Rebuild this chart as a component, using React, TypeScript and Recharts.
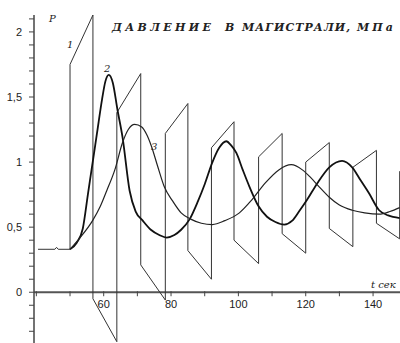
import React from "react";
import { LineChart, Line, XAxis, YAxis, ReferenceLine, ReferenceDot } from "recharts";

// Curve 1: sawtooth pressure (t, P)
const curve1T = [40.5, 45.5, 46, 46.5, 50, 50, 56.8, 56.8, 63.9, 63.9, 71, 71, 78.3, 78.3, 85, 85, 92, 92, 98.7, 98.7, 106, 106, 113, 113, 120, 120, 127, 127, 134, 134, 141, 141, 147.9, 147.9];
const curve1P = [0.33, 0.33, 0.345, 0.33, 0.33, 1.75, 2.13, -0.05, -0.38, 1.38, 1.68, 0.21, -0.06, 1.22, 1.45, 0.32, 0.1, 1.11, 1.31, 0.4, 0.22, 1.04, 1.22, 0.45, 0.3, 1.0, 1.15, 0.49, 0.35, 0.96, 1.09, 0.53, 0.41, 0.93];

// Curve 2
const curve2T = [50, 52, 53.8, 55.3, 56.5, 58, 59.5, 60.5, 61.5, 62.7, 64.1, 65.6, 67.7, 69.5, 71.6, 74, 76.5, 78.7, 81, 83, 85.5, 88, 90, 92.3, 94.3, 96.4, 97.8, 99.4, 101.3, 103.3, 106, 108.5, 111, 113.6, 116, 118, 120.4, 123.5, 127, 130.8, 133.8, 136.3, 138.8, 141.8, 144.5, 147.9];
const curve2P = [0.33, 0.38, 0.49, 0.75, 0.96, 1.22, 1.48, 1.62, 1.67, 1.61, 1.4, 1.19, 0.78, 0.62, 0.55, 0.48, 0.44, 0.42, 0.44, 0.48, 0.56, 0.7, 0.83, 1.0, 1.11, 1.16, 1.13, 1.07, 0.94, 0.81, 0.66, 0.58, 0.54, 0.52, 0.55, 0.62, 0.71, 0.84, 0.96, 1.01, 0.96, 0.86, 0.76, 0.63, 0.59, 0.57];

// Curve 3
const curve3T = [50, 53, 56.7, 59, 60.9, 63.3, 65.6, 67.3, 69.2, 71.3, 72.8, 74.2, 76, 78, 80.5, 83, 86, 89, 92.3, 96, 100.3, 104, 108, 112, 115.7, 119, 121.5, 124, 127, 130, 133.8, 137.5, 141.8, 145, 147.9];
const curve3P = [0.33, 0.42, 0.55, 0.66, 0.78, 0.94, 1.15, 1.25, 1.29, 1.27, 1.21, 1.12, 0.97, 0.81, 0.7, 0.61, 0.56, 0.53, 0.52, 0.55, 0.61, 0.71, 0.84, 0.94, 0.98, 0.94, 0.88, 0.81, 0.73, 0.67, 0.63, 0.61, 0.6, 0.62, 0.65];

const xTicks = [40, 50, 60, 70, 80, 90, 100, 110, 120, 130, 140];
const xLabelTicks = [60, 80, 100, 120, 140];
const yTicks = [-0.3, -0.2, -0.1, 0, 0.1, 0.2, 0.3, 0.4, 0.5, 0.6, 0.7, 0.8, 0.9, 1, 1.1, 1.2, 1.3, 1.4, 1.5, 1.6, 1.7, 1.8, 1.9, 2, 2.1];
const yLabelTicks = [0, 0.5, 1, 1.5, 2];

const X_DOMAIN: [number, number] = [39.3, 148];
const Y_DOMAIN: [number, number] = [-0.39, 2.13];

const W = 400;
const H = 343;
const TOP = 15;
const AXIS_W = 34;

const toRows = (ts: number[], ps: number[]) => ts.map((t, i) => ({ t, p: ps[i] }));
const data1 = toRows(curve1T, curve1P);
const data2 = toRows(curve2T, curve2P);
const data3 = toRows(curve3T, curve3P);

const fmt = (v: number) => String(v).replace(".", ",");

const makeXTick = (v: number) => (props: any) => {
  const { cx, cy } = props;
  const major = xLabelTicks.includes(v);
  return (
    <g>
      <line x1={cx} x2={cx} y1={cy - 1} y2={cy + 4} stroke="#444" strokeWidth={1} />
      {major && (
        <text x={cx} y={cy + 16} textAnchor="middle" fontSize={11} fontFamily="Liberation Sans, Arial, sans-serif" fill="#222">
          {v}
        </text>
      )}
    </g>
  );
};

const YTick = (props: any) => {
  const { y, payload } = props;
  const v = payload.value;
  const major = yLabelTicks.some((m) => Math.abs(m - v) < 1e-6);
  return (
    <g>
      <line x1={AXIS_W - 5} x2={AXIS_W} y1={y} y2={y} stroke="#444" strokeWidth={1} />
      {major && (
        <text x={22} y={y + 4} textAnchor="end" fontSize={11} fontFamily="Liberation Sans, Arial, sans-serif" fill="#222">
          {fmt(v)}
        </text>
      )}
    </g>
  );
};

const serif = "DejaVu Serif, Liberation Serif, serif";

export default function App() {
  return (
    <div style={{ position: "absolute", left: 0, top: 0, width: W, height: H, background: "#fff", overflow: "hidden" }}>
      <LineChart width={W} height={H} margin={{ top: TOP, right: 0, bottom: 0, left: 0 }}>
        <XAxis type="number" dataKey="t" domain={X_DOMAIN} ticks={xTicks} allowDataOverflow hide />
        <YAxis
          type="number"
          domain={Y_DOMAIN}
          ticks={yTicks}
          allowDataOverflow
          width={AXIS_W}
          axisLine={{ stroke: "#444", strokeWidth: 1.5 }}
          tickLine={false}
          tick={<YTick />}
          interval={0}
        />
        <ReferenceLine y={0} stroke="#555" strokeWidth={2} />
        {xTicks.map((v) => (
          <ReferenceDot key={v} x={v} y={0} r={0} shape={makeXTick(v)} ifOverflow="visible" />
        ))}
        <Line data={data1} dataKey="p" type="linear" stroke="#333" strokeWidth={1} dot={false} isAnimationActive={false} />
        <Line data={data2} dataKey="p" type="monotone" stroke="#111" strokeWidth={1.8} dot={false} isAnimationActive={false} />
        <Line data={data3} dataKey="p" type="monotone" stroke="#222" strokeWidth={1.2} dot={false} isAnimationActive={false} />
      </LineChart>
      <svg width={W} height={H} style={{ position: "absolute", left: 0, top: 0, pointerEvents: "none" }}>
        <g fontFamily={serif} fontStyle="italic" fill="#222" fontSize={11}>
          <text x={112} y={31} textLength={99} lengthAdjust="spacing" fontWeight="bold">ДАВЛЕНИЕ</text>
          <text x={225} y={31} fontWeight="bold">В</text>
          <text x={242} y={31} textLength={108} lengthAdjust="spacing" fontWeight="bold">МАГИСТРАЛИ,</text>
          <text x={357} y={31} textLength={36} lengthAdjust="spacing" fontWeight="bold">МПа</text>
        </g>
        <g fontFamily={serif} fontStyle="italic" fill="#222" fontSize={10}>
          <text x={49} y={22}>P</text>
          <text x={67} y={48}>1</text>
          <text x={104} y={72}>2</text>
          <text x={151} y={150}>3</text>
          <text x={371} y={288}>t сек</text>
        </g>
      </svg>
    </div>
  );
}
